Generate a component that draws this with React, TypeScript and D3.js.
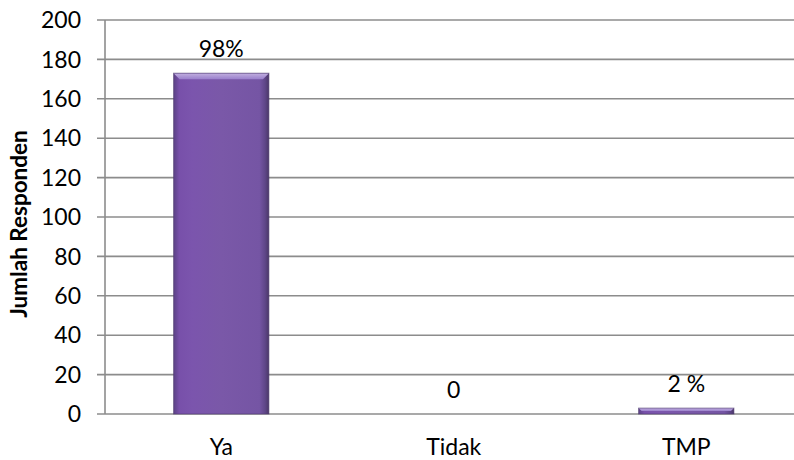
import React from "react";
import * as d3 from "d3";

const categories = ["Ya", "Tidak", "TMP"];
const values = [173, 0, 3];
const pctLabels = ["98%", "0", "2 %"];
const yTicks = [0, 20, 40, 60, 80, 100, 120, 140, 160, 180, 200];
const yTitle = "Jumlah Responden";

const W = 794;
const H = 460;
const FONT = "Lato, 'Open Sans', sans-serif";

export default function App() {
  const x = d3.scaleBand<string>().domain(categories).range([105, 802.5]).padding(0);
  const y = d3.scaleLinear().domain([0, 200]).range([414, 20]);
  const barW = x.bandwidth() * 0.41;

  return (
    <svg width={W} height={H} style={{ position: "absolute", left: 0, top: 0, background: "#fff" }}>
      <defs>
        <linearGradient id="barGrad" x1="0" x2="1" y1="0" y2="0">
          <stop offset="0" stopColor="#5b4286" />
          <stop offset="0.06" stopColor="#7850aa" />
          <stop offset="0.2" stopColor="#7b55ad" />
          <stop offset="0.5" stopColor="#7a58a8" />
          <stop offset="0.9" stopColor="#7555a4" />
          <stop offset="0.96" stopColor="#5f4688" />
          <stop offset="1" stopColor="#4a3768" />
        </linearGradient>
        <linearGradient id="capGrad" x1="0" x2="0" y1="0" y2="1">
          <stop offset="0" stopColor="#c2b0e0" />
          <stop offset="1" stopColor="#9a80cc" />
        </linearGradient>
      </defs>
      <rect x={0} y={0} width={W} height={H} fill="#fff" />
      {yTicks.map((t) => (
        <g key={t}>
          <line x1={97} x2={W} y1={y(t)} y2={y(t)} stroke="#8c8c8c" strokeWidth={1.6} />
          <text
            x={81}
            y={y(t)}
            dy="0.36em"
            textAnchor="end"
            fontFamily={FONT}
            fontSize={23}
            fill="#000"
          >
            {t}
          </text>
        </g>
      ))}
      <line x1={105} x2={105} y1={y(200)} y2={y(0)} stroke="#8c8c8c" strokeWidth={1.6} />
      {categories.map((c, i) => {
        const v = values[i];
        if (v <= 0) return null;
        const cx = (x(c) as number) + x.bandwidth() / 2;
        const x0 = cx - barW / 2;
        const top = y(v);
        const h = y(0) - top;
        const cap = Math.min(6, h / 2);
        return (
          <g key={c}>
            <rect x={x0} y={top} width={barW} height={h} fill="url(#barGrad)" />
            <polygon
              points={`${x0},${top} ${x0 + barW},${top} ${x0 + barW - cap},${top + cap} ${x0 + cap},${top + cap}`}
              fill="url(#capGrad)"
            />
            <rect x={x0} y={top} width={barW} height={h} fill="none" stroke="#4c3a6e" strokeOpacity={0.6} strokeWidth={1} />
          </g>
        );
      })}
      {categories.map((c, i) => {
        const cx = (x(c) as number) + x.bandwidth() / 2;
        return (
          <text
            key={c + "-l"}
            x={cx}
            y={y(values[i]) - 16.5}
            textAnchor="middle"
            fontFamily={FONT}
            fontSize={23}
            fill="#000"
          >
            {pctLabels[i]}
          </text>
        );
      })}
      {categories.map((c) => {
        const cx = (x(c) as number) + x.bandwidth() / 2;
        return (
          <text key={c + "-c"} x={cx} y={455} textAnchor="middle" fontFamily={FONT} fontSize={23} fill="#000">
            {c}
          </text>
        );
      })}
      <text
        transform={`translate(19,224) rotate(-90)`}
        dy="0.36em"
        textAnchor="middle"
        fontFamily={FONT}
        fontSize={22.5}
        fontWeight="bold"
        fill="#000"
      >
        {yTitle}
      </text>
    </svg>
  );
}
